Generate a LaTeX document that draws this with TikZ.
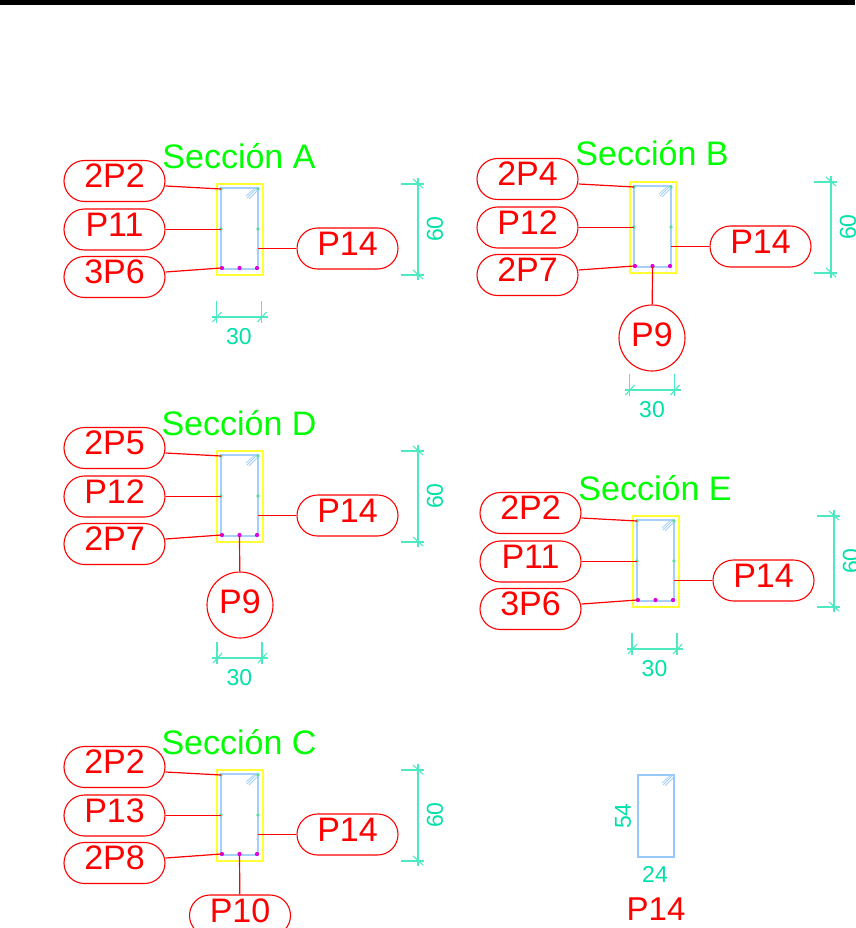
\documentclass[tikz,border=0pt]{standalone}
\usepackage{fontspec}
\setmainfont{Liberation Sans}
\usetikzlibrary{shapes.misc}
\definecolor{rojo}{RGB}{255,0,0}
\definecolor{verde}{RGB}{0,255,0}
\definecolor{cota}{RGB}{0,224,168}
\definecolor{estribo}{RGB}{165,208,250}
\definecolor{borde}{RGB}{255,255,50}
\definecolor{barra}{RGB}{225,0,225}
\definecolor{barrav}{RGB}{90,220,150}
\tikzset{
  pill/.style={draw=rojo,line width=1.1pt,rounded rectangle,minimum width=101pt,inner xsep=0pt,inner ysep=3pt,
    text height=24pt,text depth=11pt,text=rojo,font=\fontsize{34}{36}\selectfont},
  bola/.style={draw=rojo,line width=1.1pt,circle,minimum size=66pt,inner sep=0pt,text height=26pt,text depth=9pt,
    text=rojo,font=\fontsize{34}{36}\selectfont},
  lider/.style={draw=rojo,line width=1.2pt},
  titulo/.style={text=verde,anchor=base,inner sep=0pt,font=\fontsize{34}{36}\selectfont},
  numero/.style={text=cota,inner sep=0pt,font=\fontsize{23}{24}\selectfont},
  linea/.style={draw=cota!70,line width=1.1pt},
  hueco/.style={draw=estribo,line width=1.5pt},
}
\newcommand{\cotaH}[3]{% name, left end, line height
  \draw[linea] (#2-5,#3)--(#2+51,#3);
  \draw[linea] (#2,#3-16)--(#2,#3+6);
  \draw[linea] (#2+45,#3-16)--(#2+45,#3+6);
  \draw[linea] (#2-4,#3+5)--(#2+5,#3-5);
  \draw[linea] (#2+41,#3+5)--(#2+50,#3-5);
  \node[numero] (#1) at (#2+22.5,#3+19.5) {30};
}
\newcommand{\gancho}[2]{% hook lines in the corner
  \draw[estribo,line width=0.8pt] (#1-11,#2+10)--(#1-1,#2);
  \draw[estribo,line width=0.8pt] (#1-9,#2+11)--(#1,#2+2);
  \draw[estribo,line width=0.8pt] (#1-12,#2+8)--(#1-3,#2);
}
\begin{document}
\begin{tikzpicture}[x=1pt,y=-1pt]
\useasboundingbox (0,0) rectangle (855,928);
\fill[black] (0,0) rectangle (855,5);
% the five sections
\foreach \nm/\ox/\oy/\tit/\pa/\pb/\pc in {
  A/221/188/Sección A/2P2/P11/3P6,
  B/634/186/Sección B/2P4/P12/2P7,
  D/221/455/Sección D/2P5/P12/2P7,
  E/637/520/Sección E/2P2/P11/3P6,
  C/221/774/Sección C/2P2/P13/2P8}{
\begin{scope}[shift={(\ox,\oy)}]
\draw[borde,line width=1.8pt] (-4,-4) rectangle (42,87);
\draw[hueco] (0,0) rectangle (37,81);
\gancho{37}{0}
\foreach \px/\py in {0/1,37/1,0/41,37/41}
  \fill[barrav] (\px,\py) circle (1.8);
\foreach \px in {1,18.5,36}
  \fill[barra] (\px,80) circle (2.1);
\coordinate (\nm-tl) at (0,1);
\coordinate (\nm-ml) at (0,41.5);
\coordinate (\nm-bl) at (0,80);
\coordinate (\nm-rr) at (37,60.5);
\coordinate (\nm-base) at (18.5,81);
\node[titulo] (\nm-tit) at (18,-20) {\tit};
\node[pill] (\nm-top) at (-106.5,-7) {\pa};
\node[pill] (\nm-mid) at (-106.5,41.5) {\pb};
\node[pill] (\nm-bot) at (-106.5,89) {\pc};
\node[pill] (\nm-der) at (126.5,60.5) {P14};
\draw[lider] ([yshift=-5pt]\nm-top.east)--(\nm-tl);
\draw[lider] (\nm-mid.east)--(\nm-ml);
\draw[lider] ([yshift=5pt]\nm-bot.east)--(\nm-bl);
\draw[lider] (\nm-der.west)--(\nm-rr);
% height
\draw[linea] (197,-10)--(197,92);
\draw[linea] (180,-4)--(203,-4);
\draw[linea] (180,87)--(203,87);
\draw[linea] (192,-9)--(202,0);
\draw[linea] (192,82)--(202,91);
\node[numero,rotate=90] (\nm-alto) at (214,41) {60};
\end{scope}
}
% widths
\cotaH{A-ancho}{216.5}{317}
\cotaH{B-ancho}{629.5}{390}
\cotaH{D-ancho}{217}{658}
\cotaH{E-ancho}{632}{649}
% lower bars
\node[bola] (Bnueve) at (652,338) {P9};
\node[bola] (Dnueve) at (240,605) {P9};
\node[pill] (Cdiez) at (240,915.5) {P10};
\draw[lider] (B-base)--(Bnueve);
\draw[lider] (D-base)--(Dnueve);
\draw[lider] (C-base)--(Cdiez);
% stirrup alone
\draw[draw={rgb,255:red,150;green,200;blue,250},line width=1.2pt] (638,775) rectangle (674,857);
\gancho{674}{775}
\node[numero,rotate=90] (alto) at (623,816) {54};
\node[numero] (ancho) at (655,874) {24};
\node[text=rojo,inner sep=0pt,font=\fontsize{33}{36}\selectfont] (nombre) at (656,909) {P14};
\end{tikzpicture}
\end{document}
